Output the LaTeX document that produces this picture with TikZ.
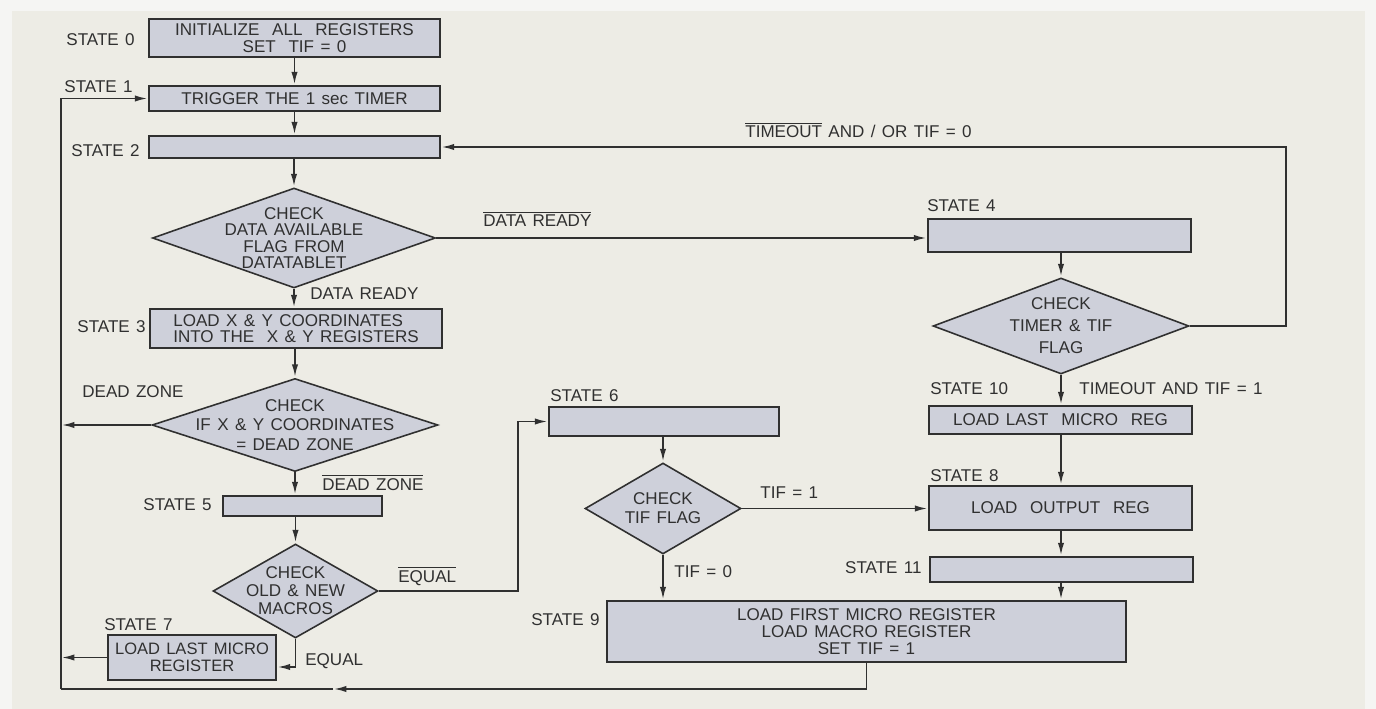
\documentclass[tikz,border=0pt]{standalone}
\usepackage{fontspec}
\setmainfont{Liberation Sans}[WordSpace=1.35]
\usetikzlibrary{arrows.meta, shapes.geometric, positioning, calc}
\definecolor{paper}{RGB}{237,236,229}
\definecolor{margin}{RGB}{245,245,243}
\definecolor{boxfill}{RGB}{206,208,218}
\definecolor{ink}{RGB}{48,48,48}
\newcommand{\barred}[1]{$\overline{\mbox{#1}}$}
\tikzset{
  >={Latex[length=7pt,width=3.6pt]},
  % state boxes and checks
  stbox/.style={draw=ink,line width=0.9pt,fill=boxfill,inner sep=0pt,align=center,text=ink,
    font=\fontsize{9.7}{10}\selectfont},
  chk/.style={diamond,draw=ink,line width=0.9pt,fill=boxfill,inner sep=0pt},
  chktext/.style={align=center,inner sep=0pt,text=ink,font=\fontsize{9.7}{#1}\selectfont},
  chktext/.default=10pt,
  % labels beside the boxes
  lbl/.style={inner sep=0pt,text=ink,font=\fontsize{9.7}{10}\selectfont},
  % connectors
  flow/.style={->,draw=ink,line width=0.9pt,shorten >=0.6pt},
  wire/.style={draw=ink,line width=0.9pt}
}

\begin{document}
\begin{tikzpicture}[x=0.02cm,y=-0.02cm]
  % paper
  \fill[margin] (0,0) rectangle (1376,709);
  \fill[paper] (12,11) rectangle (1365,709);
  \useasboundingbox (0,0) rectangle (1376,709);

  % left column
  \node[stbox,minimum width=5.82cm,minimum height=0.76cm] (s0) at (294.5,38)
    {INITIALIZE \ ALL \ REGISTERS\\SET \ TIF = 0};
  \node[stbox,minimum width=5.82cm,minimum height=0.5cm] (s1) at (294.5,98.5)
    {TRIGGER THE 1 sec TIMER};
  \node[stbox,minimum width=5.82cm,minimum height=0.44cm] (s2) at (294.5,147) {};
  \node[chk,minimum width=5.66cm,minimum height=2cm,
    label={[chktext=9.4pt]center:CHECK\\DATA AVAILABLE\\FLAG FROM\\DATATABLET}] (d1) at (294,238) {};
  \node[stbox,minimum width=5.84cm,minimum height=0.78cm,align=left,
    font=\fontsize{9.7}{9.2}\selectfont] (s3) at (296,328.5)
    {LOAD X \& Y COORDINATES\\INTO THE \ X \& Y REGISTERS};
  \node[chk,minimum width=5.72cm,minimum height=1.86cm,
    label={[chktext=11.3pt]center:CHECK\\IF X \& Y COORDINATES\\= DEAD ZONE}] (d2) at (295,425) {};
  \node[stbox,minimum width=3.18cm,minimum height=0.4cm] (s5) at (302.5,506) {};
  \node[chk,minimum width=3.3cm,minimum height=1.88cm,
    label={[chktext=10.2pt]center:CHECK\\OLD \& NEW\\MACROS}] (d3) at (295.5,591) {};
  \node[stbox,minimum width=3.36cm,minimum height=0.9cm,font=\fontsize{9.4}{9.8}\selectfont]
    (s7) at (192,657.5) {LOAD LAST MICRO\\REGISTER};

  % middle column
  \node[stbox,minimum width=4.6cm,minimum height=0.58cm] (s6) at (664,421.5) {};
  \node[chk,minimum width=3.12cm,minimum height=1.82cm,
    label={[chktext=10.8pt]center:CHECK\\TIF FLAG}] (d4) at (663,508.5) {};
  \node[stbox,minimum width=10.38cm,minimum height=1.22cm,font=\fontsize{9.7}{9.8}\selectfont]
    (s9) at (866.5,631.5) {LOAD FIRST MICRO REGISTER\\LOAD MACRO REGISTER\\SET TIF = 1};

  % right column
  \node[stbox,minimum width=5.26cm,minimum height=0.66cm] (s4) at (1059.5,235.5) {};
  \node[chk,minimum width=5.12cm,minimum height=1.92cm,
    label={[chktext=12.5pt]center:CHECK\\TIMER \& TIF\\FLAG}] (d5) at (1061,326) {};
  \node[stbox,minimum width=5.26cm,minimum height=0.56cm] (s10) at (1060.5,420)
    {LOAD LAST \ MICRO \ REG};
  \node[stbox,minimum width=5.26cm,minimum height=0.88cm] (s8) at (1060.5,508)
    {LOAD \ OUTPUT \ REG};
  \node[stbox,minimum width=5.26cm,minimum height=0.5cm] (s11) at (1061.5,569.5) {};

  % state labels
  \node[lbl,anchor=base east] (l0) at (135,46) {STATE 0};
  \node[lbl,anchor=base east] (l1) at (133,93) {STATE 1};
  \node[lbl,anchor=base east] (l2) at (140,157) {STATE 2};
  \node[lbl,anchor=base east] (l3) at (146,333) {STATE 3};
  \node[lbl,anchor=base east] (l5) at (212,510) {STATE 5};
  \node[lbl,anchor=base west] (l7) at (104,630) {STATE 7};
  \node[lbl,anchor=base west] (l6) at (550,401) {STATE 6};
  \node[lbl,anchor=base west] (l9) at (531,625) {STATE 9};
  \node[lbl,anchor=base west] (l4) at (927,212) {STATE 4};
  \node[lbl,anchor=base west] (l10) at (930,395) {STATE 10};
  \node[lbl,anchor=base west] (l8) at (930,481) {STATE 8};
  \node[lbl,anchor=base east] (l11) at (922,573) {STATE 11};

  % branch conditions
  \node[lbl,anchor=base west] (c1) at (310,300) {DATA READY};
  \node[lbl,anchor=base west] (c2) at (483,227) {\barred{DATA READY}};
  \node[lbl,anchor=base west] (c3) at (745,138) {\barred{TIMEOUT} AND / OR TIF = 0};
  \node[lbl,anchor=base west] (c4) at (1079,395) {TIMEOUT AND TIF = 1};
  \node[lbl,anchor=base west] (c5) at (82,398) {DEAD ZONE};
  \node[lbl,anchor=base west] (c6) at (322,490) {\barred{DEAD ZONE}};
  \node[lbl,anchor=base west] (c7) at (398,582) {\barred{EQUAL}};
  \node[lbl,anchor=base west] (c8) at (305,665) {EQUAL};
  \node[lbl,anchor=base west] (c9) at (760,499) {TIF = 1};
  \node[lbl,anchor=base west] (c10) at (674,577) {TIF = 0};

  % straight flow, left column
  \draw[flow] (s0.south) -- (s1.north);
  \draw[flow] (s1.south) -- (s2.north);
  \draw[flow] (d1.north |- s2.south) -- (d1.north);
  \draw[flow] (d1.south) -- (d1.south |- s3.north);
  \draw[flow] (d2.north |- s3.south) -- (d2.north);
  \draw[flow] (d2.south) -- (d2.south |- s5.north);
  \draw[flow] (d3.north |- s5.south) -- (d3.north);
  \draw[flow] (d3.south) |- ([yshift=-0.19cm]s7.east);

  % return bus back to state 1
  \coordinate (bus) at (61,689);
  \coordinate (ret) at (333,689);
  \draw[flow] (bus) -- (bus |- s1.west) -- (s1.west);
  \draw[flow] (d2.west) -- (d2.west -| bus);
  \draw[flow] (s7.west) -- (s7.west -| bus);
  \draw[flow] (s9.south) |- (ret);
  \draw[wire] (ret) -- (bus);

  % middle column
  \draw[flow] (d3.east) -- ++(139,0) |- (s6.west);
  \draw[flow] (d4.north |- s6.south) -- (d4.north);
  \draw[flow] (d4.east) -- (d4.east -| s8.west);
  \draw[flow] (d4.south) -- (d4.south |- s9.north);

  % right column
  \draw[flow] (d1.east) -- (d1.east -| s4.west);
  \draw[flow] (d5.north |- s4.south) -- (d5.north);
  \draw[flow] (d5.east) -- ++(96,0) |- (s2.east);
  \draw[flow] (d5.south) -- (d5.south |- s10.north);
  \draw[flow] (d5.south |- s10.south) -- (d5.south |- s8.north);
  \draw[flow] (d5.south |- s8.south) -- (d5.south |- s11.north);
  \draw[flow] (d5.south |- s11.south) -- (d5.south |- s9.north);
\end{tikzpicture}
\end{document}
